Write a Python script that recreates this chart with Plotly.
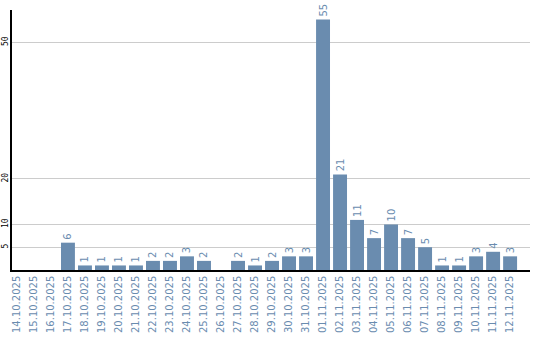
import plotly.graph_objects as go

dates = ["14.10.2025", "15.10.2025", "16.10.2025", "17.10.2025", "18.10.2025",
         "19.10.2025", "20.10.2025", "21.10.2025", "22.10.2025", "23.10.2025",
         "24.10.2025", "25.10.2025", "26.10.2025", "27.10.2025", "28.10.2025",
         "29.10.2025", "30.10.2025", "31.10.2025", "01.11.2025", "02.11.2025",
         "03.11.2025", "04.11.2025", "05.11.2025", "06.11.2025", "07.11.2025",
         "08.11.2025", "09.11.2025", "10.11.2025", "11.11.2025", "12.11.2025"]
values = [0, 0, 0, 6, 1, 1, 1, 1, 2, 2, 3, 2, 0, 2, 1, 2, 3, 3, 55, 21,
          11, 7, 10, 7, 5, 1, 1, 3, 4, 3]
y_ticks = [5, 10, 20, 50]

labels = [str(v) if v > 0 else "" for v in values]
blue = "#6a8caf"

fig = go.Figure(go.Bar(
    x=list(range(len(dates))), y=values,
    marker=dict(color=blue, line=dict(width=0)),
    text=labels, textposition="outside", textangle=-90,
    textfont=dict(family="DejaVu Sans", size=10, color=blue),
    cliponaxis=False,
))

fig.update_layout(
    width=540, height=340,
    margin=dict(l=12, r=10, t=10, b=70),
    paper_bgcolor="white", plot_bgcolor="white",
    bargap=0.18, showlegend=False,
    xaxis=dict(
        range=[-0.29, 30.17], automargin=False,
        tickmode="array", tickvals=list(range(len(dates))), ticktext=dates,
        tickangle=-90, tickfont=dict(family="DejaVu Sans", size=10, color=blue),
        showgrid=False, zeroline=False, showline=True, linecolor="black",
        linewidth=1.5, ticks="", fixedrange=True,
    ),
    yaxis=dict(
        range=[0, 57.1], automargin=False,
        tickmode="array", tickvals=y_ticks, ticktext=[str(t) for t in y_ticks],
        tickangle=-90, tickfont=dict(family="DejaVu Sans Mono", size=8, color="black"),
        showgrid=True, gridcolor="#cccccc", gridwidth=1,
        zeroline=False, showline=True, linecolor="black", linewidth=1.5,
        ticks="", ticklabelstandoff=-1,
    ),
)

fig.write_html("out.html")
